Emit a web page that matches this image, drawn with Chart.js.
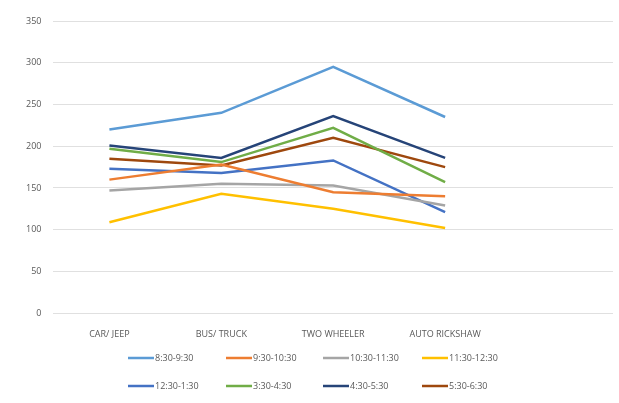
<!DOCTYPE html>
<html>
<head>
<meta charset="utf-8">
<script src="https://cdn.jsdelivr.net/npm/chart.js@4"></script>
<style>
  html, body { margin: 0; padding: 0; background: #fff; }
</style>
</head>
<body>
<canvas id="grafica" width="619" height="403"></canvas>
<script>
// categorias (la ultima vacia, como en la hoja original)
const categorias = ['CAR/ JEEP', 'BUS/ TRUCK', 'TWO WHEELER', 'AUTO RICKSHAW', ''];
const yTicks = [0, 50, 100, 150, 200, 250, 300, 350];

const horarios = ['8:30-9:30', '9:30-10:30', '10:30-11:30', '11:30-12:30',
                  '12:30-1:30', '3:30-4:30', '4:30-5:30', '5:30-6:30'];

const v0830 = [220, 240, 295, 235];
const v0930 = [160, 178, 145, 140];
const v1030 = [147, 155, 153, 129];
const v1130 = [109, 143, 125, 102];
const v1230 = [173, 168, 183, 121];
const v0330 = [197, 181, 222, 157];
const v0430 = [201, 186, 236, 186];
const v0530 = [185, 177, 210, 175];

const colores = ['#5B9BD5', '#ED7D31', '#A5A5A5', '#FFC000',
                 '#4472C4', '#70AD47', '#264478', '#9E480E'];

const series = [v0830, v0930, v1030, v1130, v1230, v0330, v0430, v0530];

const datasets = series.map((d, i) => ({
    label: horarios[i],
    data: d,
    borderColor: colores[i],
    backgroundColor: colores[i],
    borderWidth: 2.5,
    pointRadius: 0,
    tension: 0,
    fill: false
}));

// leyenda tipo excel: 2 filas x 4 columnas
const leyendaExcel = {
    id: 'leyendaExcel',
    afterDraw(chart) {
        const ctx = chart.ctx;
        ctx.save();
        ctx.font = '9px "Open Sans", sans-serif';
        ctx.fillStyle = '#595959';
        ctx.textBaseline = 'middle';
        const colX = [128, 226, 323, 422];
        const rowY = [358, 386];
        chart.data.datasets.forEach((ds, i) => {
            const x = colX[i % 4];
            const y = rowY[Math.floor(i / 4)];
            ctx.strokeStyle = ds.borderColor;
            ctx.lineWidth = 2.5;
            ctx.beginPath();
            ctx.moveTo(x, y);
            ctx.lineTo(x + 26, y);
            ctx.stroke();
            ctx.fillText(ds.label, x + 27, y);
        });
        ctx.restore();
    }
};

const $grafica = document.querySelector('#grafica');
new Chart($grafica, {
    type: 'line',
    data: {
        labels: categorias,
        datasets: datasets
    },
    options: {
        responsive: false,
        animation: false,
        layout: {
            padding: { top: 21, left: 14, right: 6, bottom: 55 }
        },
        plugins: {
            legend: { display: false },
            tooltip: { enabled: false }
        },
        scales: {
            x: {
                offset: true,
                grid: { display: false },
                border: { display: false },
                ticks: {
                    color: '#595959',
                    font: { family: '"Open Sans", sans-serif', size: 9 },
                    maxRotation: 0,
                    padding: 8
                }
            },
            y: {
                min: 0,
                max: 350,
                afterBuildTicks: (axis) => { axis.ticks = yTicks.map(v => ({ value: v })); },
                grid: { color: '#E0E0E0', drawTicks: false },
                border: { display: false },
                ticks: {
                    color: '#595959',
                    font: { family: '"Open Sans", sans-serif', size: 9 },
                    padding: 12
                }
            }
        }
    },
    plugins: [leyendaExcel]
});
</script>
</body>
</html>
